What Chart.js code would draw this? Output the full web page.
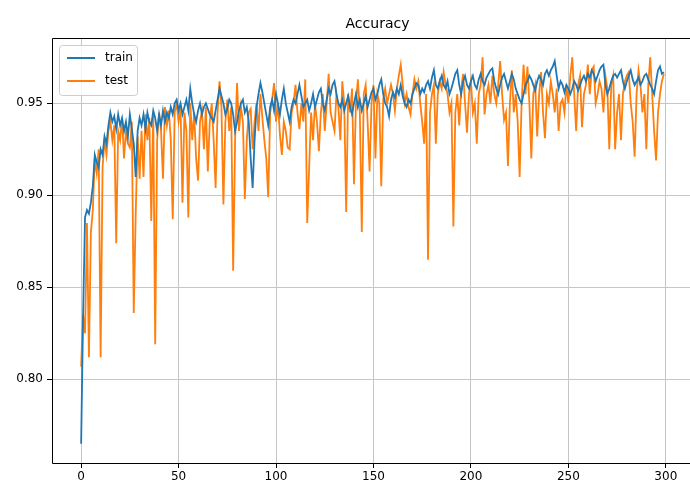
<!DOCTYPE html>
<html>
<head>
<meta charset="utf-8">
<title>Accuracy</title>
<script src="https://cdn.jsdelivr.net/npm/chart.js@4"></script>
<style>
  html, body { margin: 0; padding: 0; background: #fff; overflow: hidden; }
  #wrap { width: 694px; height: 489px; }
</style>
</head>
<body>
<div id="wrap"><canvas id="accChart" width="694" height="489"></canvas></div>
<script>
// accuracy per epoch (epochs 0..299)
const trainAcc = [
  0.765, 0.835, 0.888, 0.892, 0.890, 0.896, 0.905, 0.922, 0.918, 0.915,
  0.925, 0.922, 0.932, 0.928, 0.938, 0.945, 0.940, 0.943, 0.936, 0.944,
  0.938, 0.942, 0.935, 0.940, 0.932, 0.944, 0.936, 0.928, 0.910, 0.935,
  0.942, 0.938, 0.944, 0.936, 0.945, 0.940, 0.938, 0.946, 0.942, 0.935,
  0.944, 0.938, 0.946, 0.940, 0.945, 0.942, 0.948, 0.944, 0.950, 0.952,
  0.946, 0.950, 0.944, 0.948, 0.952, 0.946, 0.958, 0.950, 0.944, 0.940,
  0.946, 0.950, 0.944, 0.948, 0.950, 0.947, 0.944, 0.942, 0.940, 0.946,
  0.952, 0.958, 0.954, 0.950, 0.944, 0.947, 0.952, 0.950, 0.944, 0.935,
  0.940, 0.946, 0.950, 0.952, 0.945, 0.948, 0.940, 0.920, 0.904, 0.930,
  0.948, 0.955, 0.961, 0.956, 0.950, 0.944, 0.938, 0.948, 0.952, 0.946,
  0.955, 0.950, 0.944, 0.952, 0.958, 0.950, 0.945, 0.940, 0.948, 0.952,
  0.950, 0.955, 0.960, 0.954, 0.948, 0.950, 0.952, 0.946, 0.950, 0.955,
  0.948, 0.952, 0.956, 0.958, 0.950, 0.946, 0.952, 0.958, 0.955, 0.960,
  0.962, 0.955, 0.950, 0.948, 0.952, 0.946, 0.950, 0.954, 0.948, 0.944,
  0.950, 0.955, 0.948, 0.952, 0.946, 0.950, 0.954, 0.948, 0.952, 0.956,
  0.958, 0.952, 0.955, 0.960, 0.963, 0.955, 0.950, 0.948, 0.943, 0.952,
  0.956, 0.953, 0.958, 0.955, 0.960, 0.954, 0.950, 0.948, 0.952, 0.950,
  0.955, 0.958, 0.961, 0.960, 0.955, 0.958, 0.956, 0.960, 0.962, 0.958,
  0.964, 0.968, 0.960, 0.958, 0.962, 0.965, 0.960, 0.958, 0.962, 0.955,
  0.958, 0.962, 0.966, 0.968, 0.960, 0.955, 0.962, 0.965, 0.960, 0.958,
  0.962, 0.965, 0.960, 0.958, 0.963, 0.966, 0.962, 0.960, 0.964, 0.966,
  0.968, 0.969, 0.962, 0.958, 0.955, 0.960, 0.964, 0.966, 0.962, 0.958,
  0.962, 0.966, 0.963, 0.958, 0.955, 0.952, 0.950, 0.955, 0.960, 0.962,
  0.965, 0.963, 0.960, 0.957, 0.962, 0.965, 0.963, 0.960, 0.966, 0.968,
  0.965, 0.968, 0.970, 0.973, 0.965, 0.958, 0.962, 0.960, 0.956, 0.960,
  0.958, 0.955, 0.958, 0.962, 0.960, 0.957, 0.960, 0.963, 0.965, 0.962,
  0.966, 0.964, 0.968, 0.966, 0.962, 0.965, 0.968, 0.970, 0.971, 0.960,
  0.955, 0.958, 0.962, 0.965, 0.966, 0.964, 0.966, 0.968, 0.962, 0.958,
  0.962, 0.965, 0.968, 0.963, 0.960, 0.962, 0.964, 0.960, 0.962, 0.965,
  0.966, 0.963, 0.960, 0.958, 0.955, 0.962, 0.968, 0.970, 0.966, 0.967
];

const testAcc = [
  0.807, 0.835, 0.825, 0.885, 0.812, 0.880, 0.892, 0.920, 0.912, 0.925,
  0.812, 0.915, 0.930, 0.922, 0.935, 0.940, 0.930, 0.938, 0.874, 0.935,
  0.930, 0.942, 0.920, 0.935, 0.928, 0.926, 0.940, 0.836, 0.890, 0.932,
  0.909, 0.935, 0.910, 0.944, 0.930, 0.942, 0.886, 0.945, 0.819, 0.930,
  0.945, 0.935, 0.909, 0.948, 0.938, 0.946, 0.930, 0.887, 0.945, 0.950,
  0.940, 0.948, 0.896, 0.945, 0.935, 0.888, 0.950, 0.930, 0.945, 0.920,
  0.908, 0.940, 0.946, 0.925, 0.948, 0.913, 0.940, 0.950, 0.930, 0.904,
  0.945, 0.962, 0.948, 0.895, 0.940, 0.952, 0.935, 0.948, 0.859, 0.930,
  0.961, 0.935, 0.948, 0.940, 0.898, 0.930, 0.945, 0.947, 0.925, 0.940,
  0.950, 0.935, 0.955, 0.942, 0.930, 0.920, 0.899, 0.945, 0.952, 0.961,
  0.940, 0.950, 0.933, 0.922, 0.940, 0.935, 0.926, 0.925, 0.945, 0.950,
  0.960, 0.945, 0.936, 0.950, 0.940, 0.963, 0.885, 0.915, 0.945, 0.930,
  0.950, 0.940, 0.924, 0.945, 0.955, 0.935, 0.950, 0.966, 0.945, 0.940,
  0.935, 0.955, 0.948, 0.930, 0.962, 0.950, 0.891, 0.955, 0.945, 0.958,
  0.906, 0.950, 0.963, 0.945, 0.880, 0.955, 0.960, 0.940, 0.913, 0.950,
  0.960, 0.920, 0.955, 0.950, 0.905, 0.952, 0.958, 0.950, 0.955, 0.960,
  0.955, 0.946, 0.958, 0.965, 0.971, 0.960, 0.950, 0.955, 0.948, 0.944,
  0.955, 0.963, 0.958, 0.962, 0.950, 0.940, 0.928, 0.955, 0.865, 0.945,
  0.955, 0.960, 0.928, 0.955, 0.962, 0.958, 0.967, 0.960, 0.955, 0.945,
  0.950, 0.883, 0.945, 0.955, 0.938, 0.958, 0.966, 0.950, 0.934, 0.955,
  0.962, 0.945, 0.950, 0.928, 0.955, 0.960, 0.975, 0.944, 0.955, 0.960,
  0.950, 0.965, 0.955, 0.950, 0.960, 0.973, 0.955, 0.941, 0.945, 0.916,
  0.950, 0.968, 0.945, 0.955, 0.940, 0.910, 0.950, 0.971, 0.955, 0.970,
  0.950, 0.920, 0.955, 0.960, 0.932, 0.955, 0.967, 0.945, 0.931, 0.955,
  0.950, 0.962, 0.955, 0.945, 0.958, 0.935, 0.950, 0.952, 0.945, 0.960,
  0.950, 0.965, 0.975, 0.955, 0.935, 0.960, 0.965, 0.937, 0.955, 0.960,
  0.971, 0.955, 0.968, 0.970, 0.950, 0.955, 0.962, 0.958, 0.945, 0.965,
  0.958, 0.925, 0.960, 0.965, 0.925, 0.945, 0.955, 0.930, 0.955, 0.962,
  0.965, 0.967, 0.950, 0.940, 0.921, 0.955, 0.968, 0.960, 0.945, 0.955,
  0.925, 0.960, 0.975, 0.955, 0.935, 0.919, 0.945, 0.955, 0.962, 0.966
];

const seriesNames = ['train', 'test'];
const xTicks = [0, 50, 100, 150, 200, 250, 300];
const yTicks = [0.80, 0.85, 0.90, 0.95];

const FONT = 'DejaVu Sans';

// frame (top/left/bottom; the right spine is cut off in the picture), title and legend
const mplPlugin = {
  id: 'mpl',
  afterDraw(chart) {
    const { ctx, chartArea: a } = chart;
    const l = Math.round(a.left) + 0.5, t = Math.round(a.top) + 0.5, b = Math.round(a.bottom) + 0.5;
    ctx.save();
    ctx.strokeStyle = '#000';
    ctx.lineWidth = 1;
    ctx.beginPath();
    ctx.moveTo(chart.width, t);
    ctx.lineTo(l, t);
    ctx.lineTo(l, b);
    ctx.lineTo(chart.width, b);
    ctx.stroke();

    // title
    ctx.fillStyle = '#000';
    ctx.font = '14px "' + FONT + '"';
    ctx.textAlign = 'center';
    ctx.textBaseline = 'alphabetic';
    ctx.fillText('Accuracy', (a.left + a.right) / 2 + 5, a.top - 10);

    // legend, upper left
    const bx = a.left + 7, by = a.top + 7, bw = 78, bh = 50;
    ctx.beginPath();
    ctx.roundRect(bx + 0.5, by + 0.5, bw, bh, 3);
    ctx.fillStyle = 'rgba(255,255,255,0.8)';
    ctx.fill();
    ctx.strokeStyle = '#cccccc';
    ctx.stroke();
    ctx.font = '12px "' + FONT + '"';
    ctx.textAlign = 'left';
    ctx.textBaseline = 'middle';
    chart.data.datasets.forEach((ds, k) => {
      const yy = by + 13 + k * 23;
      ctx.strokeStyle = ds.borderColor;
      ctx.lineWidth = 2;
      ctx.beginPath();
      ctx.moveTo(bx + 8, yy);
      ctx.lineTo(bx + 36, yy);
      ctx.stroke();
      ctx.fillStyle = '#000';
      ctx.fillText(ds.label, bx + 46, yy);
    });
    ctx.restore();
  }
};

const toPoints = arr => arr.map((v, i) => ({ x: i, y: v }));

new Chart(document.getElementById('accChart'), {
  type: 'line',
  data: {
    datasets: [
      { label: seriesNames[0], data: toPoints(trainAcc), borderColor: '#1f77b4', borderWidth: 1.8 },
      { label: seriesNames[1], data: toPoints(testAcc), borderColor: '#ff7f0e', borderWidth: 1.8 }
    ]
  },
  options: {
    responsive: false,
    devicePixelRatio: 1,
    animation: false,
    events: [],
    elements: { point: { radius: 0 }, line: { tension: 0 } },
    layout: { padding: { left: 0, right: 1, top: 38, bottom: 0 } },
    plugins: { legend: { display: false }, title: { display: false }, tooltip: { enabled: false } },
    scales: {
      x: {
        type: 'linear',
        min: -14.95,
        max: 313.95,
        afterBuildTicks: s => { s.ticks = xTicks.map(v => ({ value: v })); },
        afterFit: s => { s.height = 26; },
        grid: { color: '#c6c6c6', lineWidth: 1, tickColor: '#000', tickLength: 5 },
        border: { display: false },
        ticks: { color: '#000', font: { family: FONT, size: 12 }, padding: 2, maxRotation: 0 }
      },
      y: {
        type: 'linear',
        min: 0.7545,
        max: 0.9855,
        afterBuildTicks: s => { s.ticks = yTicks.map(v => ({ value: v })); },
        afterFit: s => { s.width = 52; },
        grid: { color: '#c6c6c6', lineWidth: 1, tickColor: '#000', tickLength: 5 },
        border: { display: false },
        ticks: { color: '#000', font: { family: FONT, size: 12 }, padding: 4, callback: v => v.toFixed(2) }
      }
    }
  },
  plugins: [mplPlugin]
});
</script>
</body>
</html>
